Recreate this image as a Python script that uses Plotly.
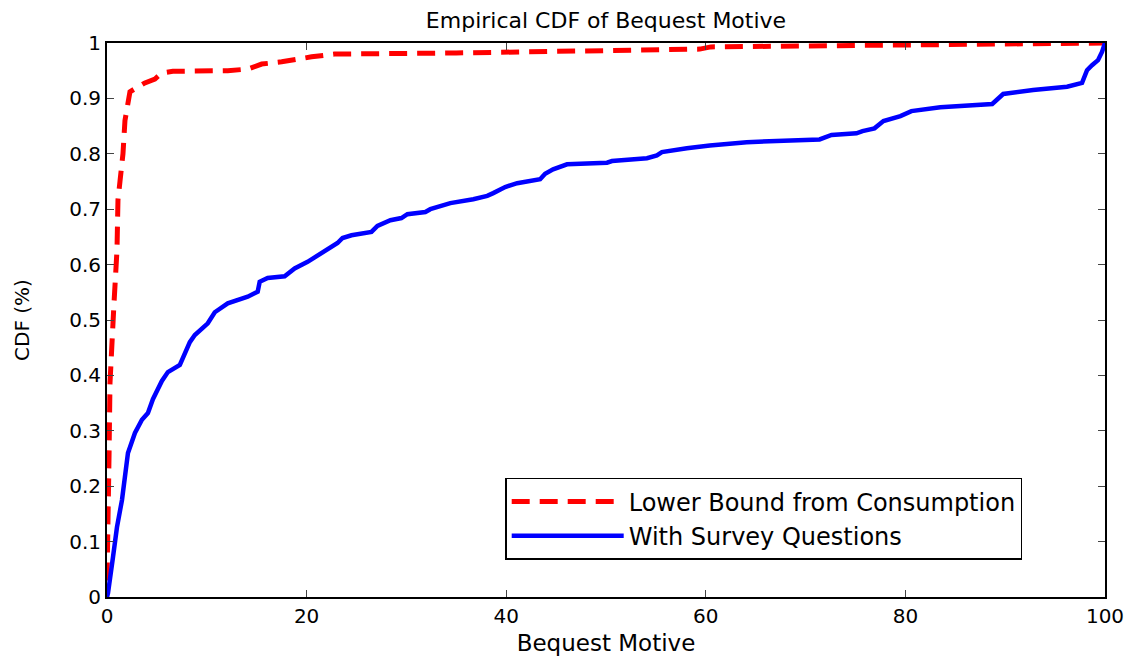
import plotly.graph_objects as go

# Lower bound from consumption (red dashed)
red_x = [0, 0.1, 0.2, 0.3, 0.5, 0.7, 1.0, 1.1, 1.3, 1.6, 1.8, 2.1, 2.3, 3.8, 4.8, 5.5, 6.6,
         12.1, 14.1, 15.5, 17.5, 20.5, 22.8, 35, 45, 51.4, 59.4, 60.5, 70, 80, 90, 100]
red_y = [0.03, 0.1, 0.25, 0.386, 0.476, 0.53, 0.626, 0.717, 0.75, 0.80, 0.86, 0.90, 0.912, 0.928, 0.935,
         0.946, 0.949, 0.950, 0.953, 0.962, 0.966, 0.975, 0.980, 0.982, 0.984, 0.987, 0.989, 0.993,
         0.995, 0.996, 0.998, 1.0]

# With survey questions (blue solid)
blue_x = [0, 0.1, 0.6, 1.0, 1.5, 1.8, 2.1, 2.8, 3.5, 4.1,
          4.6, 5.5, 6.1, 7.3, 7.8, 8.3, 8.8, 10.1, 10.8, 12.1,
          14.1, 15.1, 15.3, 16.1, 17.8, 18.8, 20.1, 21.8, 23.1, 23.6,
          24.5, 26.5, 27.1, 28.4, 29.5, 30.1, 31.9, 32.4, 33.7, 34.4,
          36.7, 38.1, 38.7, 39.9, 41.1, 43.4, 43.9, 44.7, 46.1, 50.1,
          50.6, 54.1, 55.1, 55.6, 58.1, 60.4, 64.1, 71.4, 72.6, 75.1,
          75.7, 76.9, 77.8, 79.5, 80.6, 83.5, 88.7, 89.8, 92.8, 96.2,
          97.7, 98.2, 98.7, 99.3, 99.7, 100]
blue_y = [0.0, 0.007, 0.072, 0.126, 0.175, 0.217, 0.26, 0.296, 0.32, 0.332,
          0.357, 0.39, 0.406, 0.419, 0.442, 0.46, 0.473, 0.494, 0.514, 0.53,
          0.542, 0.551, 0.569, 0.576, 0.579, 0.593, 0.605, 0.623, 0.639, 0.648,
          0.653, 0.659, 0.67, 0.68, 0.684, 0.691, 0.695, 0.70, 0.707, 0.711,
          0.718, 0.724, 0.729, 0.740, 0.747, 0.754, 0.764, 0.772, 0.781, 0.784,
          0.787, 0.792, 0.797, 0.803, 0.81, 0.815, 0.821, 0.826, 0.834, 0.837,
          0.841, 0.846, 0.859, 0.868, 0.877, 0.884, 0.89, 0.908, 0.915, 0.921,
          0.928, 0.951, 0.96, 0.969, 0.984, 1.0]

x_ticks = [0, 20, 40, 60, 80, 100]
y_ticks = [0, 0.1, 0.2, 0.3, 0.4, 0.5, 0.6, 0.7, 0.8, 0.9, 1]
y_tick_labels = ["0", "0.1", "0.2", "0.3", "0.4", "0.5", "0.6", "0.7", "0.8", "0.9", "1"]

FONT = "DejaVu Sans, Liberation Sans, Arial, sans-serif"

fig = go.Figure()
fig.add_trace(go.Scatter(x=red_x, y=red_y, mode="lines", name="Lower Bound from Consumption",
                         line=dict(color="#ff0000", width=5, dash="18px,10px"), cliponaxis=False))
fig.add_trace(go.Scatter(x=blue_x, y=blue_y, mode="lines", name="With Survey Questions",
                         line=dict(color="#0000ff", width=4.5), cliponaxis=False))

# The page body has an 8px margin, so the figure is sized/offset to compensate.
fig.update_layout(
    width=1129, height=649,
    margin=dict(l=99, r=32, t=35, b=60, autoexpand=False),
    paper_bgcolor="white", plot_bgcolor="white",
    font=dict(family=FONT, size=20, color="black"),
    title=dict(text="Empirical CDF of Bequest Motive", x=(606 - 8) / 1129, xanchor="center",
               y=1 - 12 / 649, yanchor="middle", font=dict(size=22)),
    showlegend=True,
    legend=dict(x=0.399, y=0.215, xanchor="left", yanchor="top",
                bgcolor="white", bordercolor="black", borderwidth=1.5,
                font=dict(size=24), tracegroupgap=0, itemwidth=112),
    xaxis=dict(range=[0, 100], tickvals=x_ticks, ticks="inside", ticklen=7,
               showline=True, linecolor="black", linewidth=2, mirror="allticks",
               showgrid=False, zeroline=False, automargin=False,
               title=dict(text="Bequest Motive", standoff=8, font=dict(size=23))),
    yaxis=dict(range=[0, 1], tickvals=y_ticks, ticktext=y_tick_labels, ticks="inside", ticklen=7,
               showline=True, linecolor="black", linewidth=2, mirror="allticks",
               showgrid=False, zeroline=False, automargin=False,
               title=dict(text="CDF (%)", standoff=34, font=dict(size=20))),
)

fig.write_html("out.html")
